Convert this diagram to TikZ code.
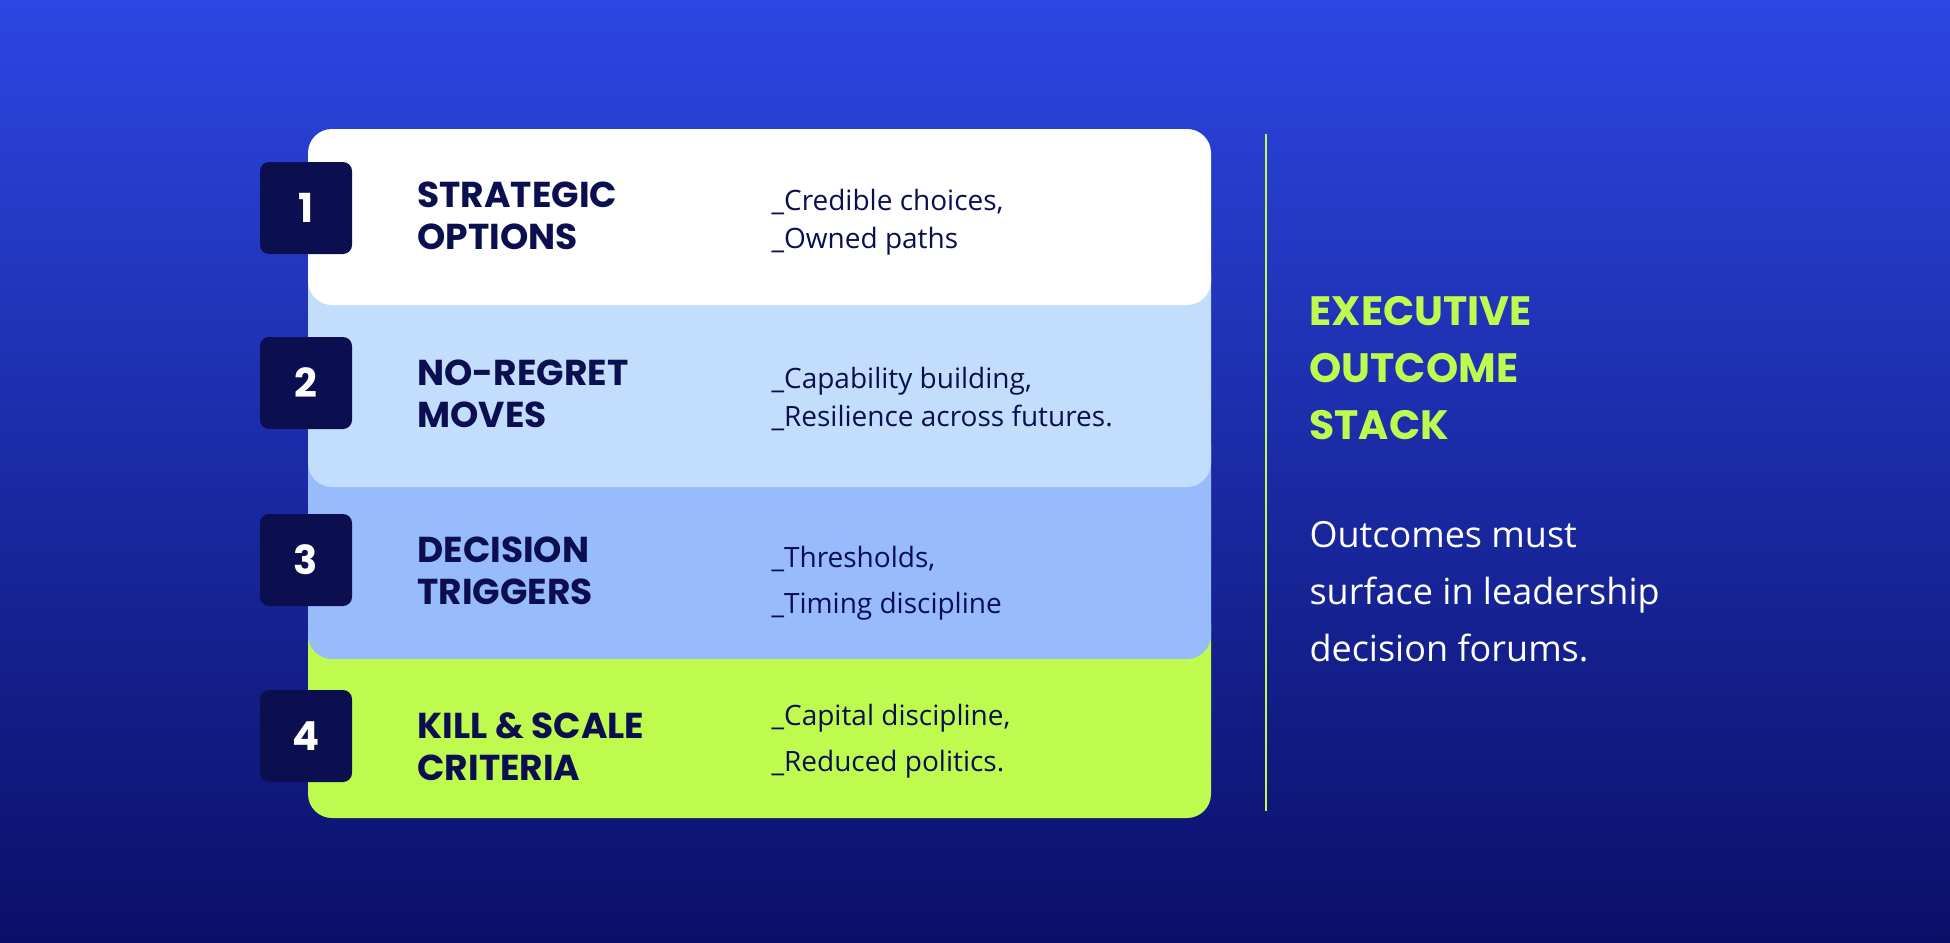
\documentclass[tikz,border=0pt]{standalone}
\usepackage{fontspec}
\setmainfont{Poppins}
\newfontfamily\bodyf{Open Sans}
\definecolor{navy}{HTML}{0B0F4F}
\definecolor{lime}{HTML}{BFFB4F}
\definecolor{lblue}{HTML}{C3DDFD}
\definecolor{mblue}{HTML}{98BBFB}
\definecolor{bgtop}{HTML}{2C46E2}
\definecolor{bgbot}{HTML}{0A0F68}
\tikzset{
 card/.style={rounded corners=24pt},
 num/.style={fill=navy,rounded corners=9pt,minimum width=92pt,minimum height=92pt,text=white,font=\fontsize{40}{40}\selectfont\bfseries},
 ttl/.style={anchor=west,align=left,text=navy,font=\fontsize{36}{42}\selectfont\bfseries},
 bul/.style={anchor=west,align=left,text=navy,font=\bodyf\fontsize{28}{38}\selectfont},
}
\begin{document}
\begin{tikzpicture}[x=1pt,y=1pt]
\shade[top color=bgtop,bottom color=bgbot] (0,0) rectangle (1950,-942);
\useasboundingbox (0,0) rectangle (1950,-942);
\fill[lime,card] (308,-600) rectangle (1211,-818);
\fill[mblue,card] (308,-420) rectangle (1211,-659);
\fill[lblue,card] (308,-250) rectangle (1211,-487);
\fill[white,card] (308,-129) rectangle (1211,-305);
\node[num] (n1) at (306,-208) {1};
\node[num] (n2) at (306,-383) {2};
\node[num] (n3) at (306,-560) {3};
\node[num] (n4) at (306,-736) {4};
\node[ttl] (t1) at (414,-216) {STRATEGIC\\OPTIONS};
\node[ttl] (t2) at (414,-394) {NO-REGRET\\MOVES};
\node[ttl] (t3) at (414,-571) {DECISION\\TRIGGERS};
\node[ttl] (t4) at (414,-747) {KILL \& SCALE\\CRITERIA};
\node[bul] (b1) at (768,-222) {\_Credible choices,\\\_Owned paths};
\node[bul] (b2) at (768,-399) {\_Capability building,\\\_Resilience across futures.};
\node[bul,font=\bodyf\fontsize{28}{46}\selectfont] (b3) at (768,-583) {\_Thresholds,\\\_Timing discipline};
\node[bul,font=\bodyf\fontsize{28}{46}\selectfont] (b4) at (768,-741) {\_Capital discipline,\\\_Reduced politics.};
\coordinate (la) at (1266,-134);
\coordinate (lb) at (1266,-811);
\draw[lime,line width=2.5pt] (la) -- (lb);
\node[anchor=north west,align=left,text=lime,font=\fontsize{41}{57}\selectfont\bfseries] (h) at (1306,-293) {EXECUTIVE\\OUTCOME\\STACK};
\node[anchor=north west,align=left,text=white,font=\bodyf\fontsize{36}{57}\selectfont] (d) at (1306,-518) {Outcomes must\\surface in leadership\\decision forums.};
\end{tikzpicture}
\end{document}
